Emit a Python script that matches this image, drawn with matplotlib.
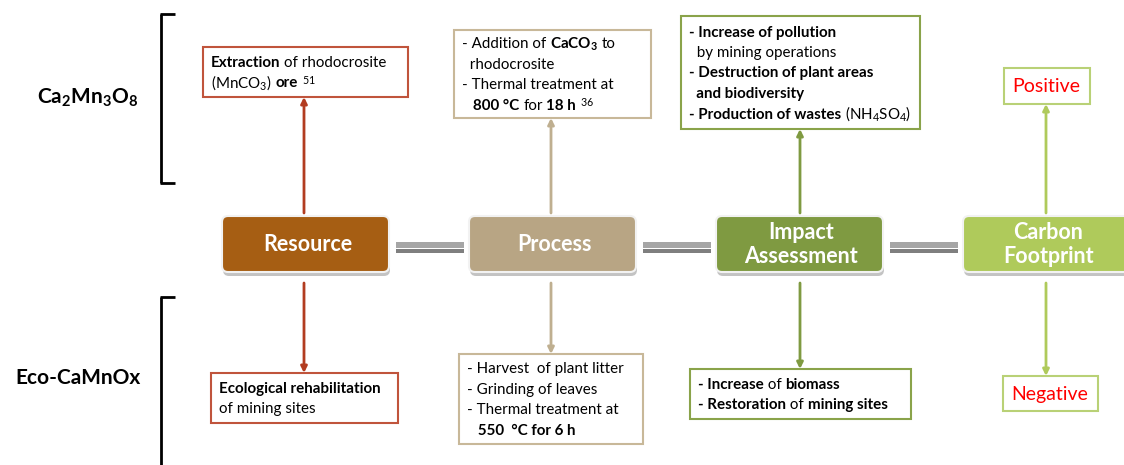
import matplotlib
matplotlib.use("Agg")
import matplotlib.pyplot as plt
from matplotlib.patches import FancyBboxPatch, Rectangle

plt.rcParams['font.family'] = ['Lato', 'DejaVu Sans']
plt.rcParams['mathtext.fontset'] = 'custom'
plt.rcParams['mathtext.rm'] = 'Lato'
plt.rcParams['mathtext.it'] = 'Lato:italic'
plt.rcParams['mathtext.bf'] = 'Lato:bold'

# Stage boxes along the middle row
stages = ["Resource", "Process", "Impact\nAssessment", "Carbon\nFootprint"]
stage_colors = ["#A65E13", "#B8A584", "#7F9A41", "#AFCA5B"]
line_colors = ["#B23C20", "#BFAF90", "#7F9A41", "#AFCA5B"]
edge_colors = ["#C0543C", "#C8B899", "#8AA34A", "#B9D176"]
stage_x = [222, 469, 716, 963]
stage_w = 167
stage_top, stage_bot = 216, 272

# Row labels
row_labels = [r"$\mathbf{Ca_2Mn_3O_8}$", "Eco-CaMnOx"]

# Text boxes: list of lines, each line = list of (text, bold)
top_texts = [
    [[("Extraction", True), ("of rhodocrosite", False)],
     [("(MnCO$_3$)", False), ("ore", True), ("$^{51}$", False)]],
    [[("- Addition of", False), (r"$\mathbf{CaCO_3}$", True), ("to", False)],
     [("  rhodocrosite", False)],
     [("- Thermal treatment at", False)],
     [("   800 °C", True), ("for", False), ("18 h", True), ("$^{36}$", False)]],
    [[("- Increase of pollution", True)],
     [("  by mining operations", False)],
     [("- Destruction of plant areas", True)],
     [("  and biodiversity", True)],
     [("- Production of wastes", True), ("(NH$_4$SO$_4$)", False)]],
    [[("Positive", False)]],
]
bottom_texts = [
    [[("Ecological rehabilitation", True)],
     [("of mining sites", False)]],
    [[("- Harvest  of plant litter", False)],
     [("- Grinding of leaves", False)],
     [("- Thermal treatment at", False)],
     [("   550  °C for 6 h", True)]],
    [[("- Increase", True), (" of", False), ("biomass", True)],
     [("- Restoration", True), (" of", False), ("mining sites", True)]],
    [[("Negative", False)]],
]
# box extents (x0, x1, y0, y1) in pixels
top_boxes = [(203, 408, 47, 97), (454, 651, 30, 118), (681, 920, 16, 129), (1004, 1090, 68, 104)]
bottom_boxes = [(211, 398, 373, 423), (459, 643, 354, 444), (690, 911, 369, 419), (1003, 1098, 376, 411)]
arrow_x = [304, 551, 800, 1046]

fig = plt.figure(figsize=(11.24, 4.65), dpi=100)
ax = fig.add_axes([0, 0, 1, 1])
ax.set_xlim(0, 1124)
ax.set_ylim(465, 0)
ax.axis('off')
renderer = fig.canvas.get_renderer()

FS = 10.9


def text_width(s, bold):
	t = ax.text(0, 0, s, fontsize=FS, fontweight='bold' if bold else 'normal')
	w = t.get_window_extent(renderer).width
	t.remove()
	return w


space_w = text_width("x x", False) - text_width("xx", False)


def draw_line(x, y, segs, color='black', fs=FS):
	for i, (s, bold) in enumerate(segs):
		t = ax.text(x, y, s, fontsize=fs, fontweight='bold' if bold else 'normal',
					color=color, ha='left', va='baseline')
		w = t.get_window_extent(renderer).width
		x += w
		if i + 1 < len(segs) and not segs[i + 1][0].startswith(" "):
			x += space_w


# brackets
for y0, y1, top_serif, bot_serif in [(14, 183, True, True), (297, 470, True, False)]:
	ax.plot([161, 161], [y0, y1], color='black', lw=2, solid_capstyle='butt')
	if top_serif:
		ax.plot([160, 175], [y0, y0], color='black', lw=2, solid_capstyle='butt')
	if bot_serif:
		ax.plot([160, 175], [y1, y1], color='black', lw=2, solid_capstyle='butt')

ax.text(88, 98, row_labels[0], fontsize=15, ha='center', va='center')
ax.text(78, 378, row_labels[1], fontsize=15, fontweight='bold', ha='center', va='center')

# connectors between stages (light band over a darker shadow band)
for i in range(3):
	xa = stage_x[i] + stage_w + 7
	xb = stage_x[i + 1] - 5
	ax.add_patch(Rectangle((xa, 248.5), xb - xa, 4, fc='#7F7F7F', ec='none'))
	ax.add_patch(Rectangle((xa, 241.5), xb - xa, 6, fc='#A6A6A6', ec='none'))

# stage boxes
for i in range(4):
	x0 = stage_x[i]
	sh = FancyBboxPatch((x0 + 1, stage_top + 4), stage_w, stage_bot - stage_top,
						boxstyle="round,pad=0,rounding_size=6", fc='#555555', ec='none', alpha=0.35)
	ax.add_patch(sh)
	b = FancyBboxPatch((x0, stage_top), stage_w, stage_bot - stage_top,
					   boxstyle="round,pad=0,rounding_size=6", fc=stage_colors[i], ec='#F2F2F2', lw=1.5)
	ax.add_patch(b)
	ax.text(x0 + stage_w / 2 + 2, (stage_top + stage_bot) / 2 + 0.5, stages[i], color='white',
			fontsize=15.5, fontweight='bold', ha='center', va='center', linespacing=1.2)

# arrows + text boxes
for i in range(4):
	c = line_colors[i]
	ax.annotate("", xy=(arrow_x[i], top_boxes[i][3]), xytext=(arrow_x[i], stage_top - 3),
				arrowprops=dict(arrowstyle='-|>', color=c, lw=2, mutation_scale=9, shrinkA=0, shrinkB=0))
	ax.annotate("", xy=(arrow_x[i], bottom_boxes[i][2]), xytext=(arrow_x[i], stage_bot + 11),
				arrowprops=dict(arrowstyle='-|>', color=c, lw=2, mutation_scale=9, shrinkA=0, shrinkB=0))
	for box, lines in [(top_boxes[i], top_texts[i]), (bottom_boxes[i], bottom_texts[i])]:
		x0, x1, y0, y1 = box
		ax.add_patch(Rectangle((x0, y0), x1 - x0, y1 - y0, fc='white', ec=edge_colors[i], lw=1.5))
		if i == 3:
			draw_line(x0 + 8, (y0 + y1) / 2 + 6, lines[0], color='#FF0000', fs=14)
			continue
		step = 20.5
		n = len(lines)
		ystart = (y0 + y1) / 2 - step * (n - 1) / 2 + 5
		for k, segs in enumerate(lines):
			draw_line(x0 + 8, ystart + k * step, segs)

fig.savefig("out.png", dpi=100)
